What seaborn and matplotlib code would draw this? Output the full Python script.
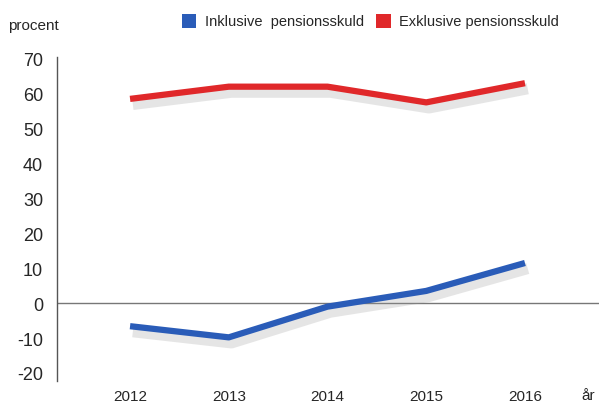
import pandas as pd
import numpy as np
import matplotlib.pyplot as plt
import matplotlib.patheffects as pe
from matplotlib.patches import Patch
import seaborn as sns

sns.set_style('white')
plt.rcParams['font.family'] = ['Liberation Sans', 'DejaVu Sans']

years = [2012, 2013, 2014, 2015, 2016]
inklusive = [-6.6, -9.8, -1.0, 3.5, 11.5]
exklusive = [58.5, 62.0, 62.0, 57.5, 63.0]
series_names = ['Inklusive  pensionsskuld', 'Exklusive pensionsskuld']
colors = ['#2a5cb8', '#e0282a']

df = pd.DataFrame({
    'year': years * 2,
    'value': inklusive + exklusive,
    'serie': [series_names[0]] * len(years) + [series_names[1]] * len(years),
})

fig = plt.figure(figsize=(5.99, 4.06), dpi=100)
ax = fig.add_axes([57 / 599, 24 / 406, 1 - 57 / 599, 324 / 406])

ax.axhline(0, color='#777777', lw=1.0, zorder=1)

sns.lineplot(data=df, x='year', y='value', hue='serie', palette=colors,
             linewidth=4.5, legend=False, ax=ax, zorder=3)
for line in ax.get_lines()[1:]:
    line.set_solid_capstyle('butt')
    line.set_path_effects([pe.SimpleLineShadow(offset=(2, -4), shadow_color='#999999',
                                               alpha=0.25, linewidth=8),
                           pe.Normal()])

ax.set_xlim(2011.26, 2016.75)
ax.set_ylim(-22.3, 70.5)
ax.set_xticks(years)
ax.set_xticklabels([str(y) for y in years], fontsize=11)
ax.set_yticks(range(-20, 71, 10))
ax.set_yticklabels([str(v) for v in range(-20, 71, 10)], fontsize=13)
ax.tick_params(axis='y', length=0, pad=10)
ax.tick_params(axis='x', length=0, pad=6)
ax.set_xlabel('')
ax.set_ylabel('')
for s in ['top', 'right', 'bottom']:
    ax.spines[s].set_visible(False)
ax.spines['left'].set_color('#555555')
ax.spines['left'].set_linewidth(1.0)

ax.text(0.968, -0.022, 'år', transform=ax.transAxes, fontsize=11,
        ha='left', va='top', clip_on=False)
fig.text(8 / 599, 1 - 26 / 406, 'procent', fontsize=11, ha='left', va='center')

handles = [Patch(facecolor=c, edgecolor='none') for c in colors]
fig.legend(handles, series_names, loc='center left', bbox_to_anchor=(176 / 599, 1 - 22 / 406),
           ncol=2, frameon=False, fontsize=10.5, handlelength=1.0, handleheight=1.1,
           columnspacing=0.8, handletextpad=0.6, borderaxespad=0)

plt.savefig('out.png', dpi=100)
